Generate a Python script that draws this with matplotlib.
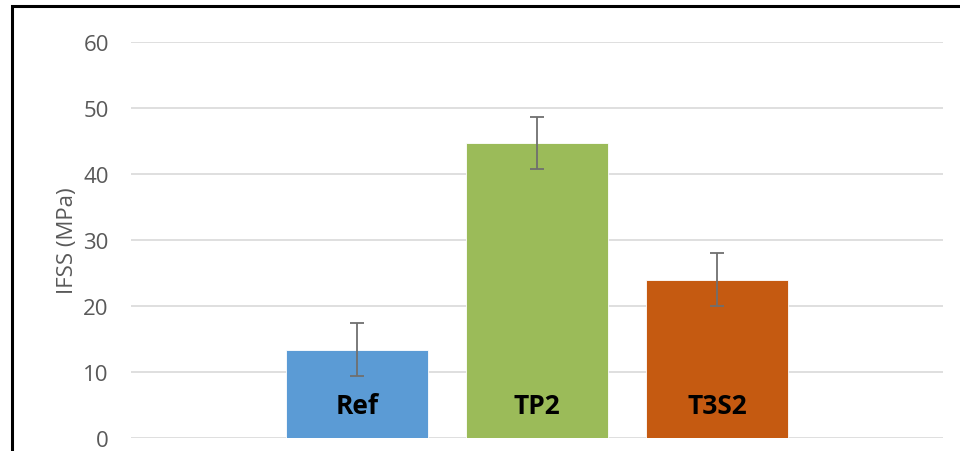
import matplotlib
matplotlib.use("Agg")
import matplotlib.pyplot as plt
from matplotlib.patches import Rectangle

categories = ["Ref", "TP2", "T3S2"]
ifss = [13.4, 44.7, 24.0]
ifss_err = [4.0, 4.0, 4.0]
bar_colors = ["#5B9BD5", "#9BBB59", "#C55A11"]

plt.rcParams['font.family'] = ['Open Sans', 'DejaVu Sans']

fig = plt.figure(figsize=(9.6, 4.52), dpi=100)
ax = fig.add_axes([131 / 960, 13 / 452, 812 / 960, 396 / 452])

x = list(range(len(categories)))
ax.bar(x, ifss, width=0.79, color=bar_colors, edgecolor="white", linewidth=0.6,
       zorder=2)
ax.errorbar(x, ifss, yerr=ifss_err, fmt="none", ecolor="#6f6f6f", elinewidth=1.3,
            capsize=5, capthick=1.3, zorder=3)

for xi, name in zip(x, categories):
    ax.text(xi, 4.85, name, ha="center", va="center", fontsize=19,
            fontweight="bold", color="black", zorder=4)

ax.set_xlim(-1.256, 3.256)
ax.set_ylim(0, 60)
ax.set_yticks(range(0, 61, 10))
ax.set_xticks([])
ax.tick_params(axis="y", length=0, pad=16, labelsize=16, labelcolor="#595959")
ax.grid(axis="y", color="#d9d9d9", linewidth=1.2, zorder=0)
for s in ax.spines.values():
    s.set_visible(False)
ax.set_ylabel("IFSS (MPa)", fontsize=16, color="#595959", labelpad=4)

# screenshot border (left and top edges visible)
fig.patches.append(Rectangle((11.5 / 960, -0.1), 1.2, 1.1 - 7 / 452,
                             transform=fig.transFigure, fill=False,
                             edgecolor="black", linewidth=2.2))

fig.savefig("out.png", dpi=100)
